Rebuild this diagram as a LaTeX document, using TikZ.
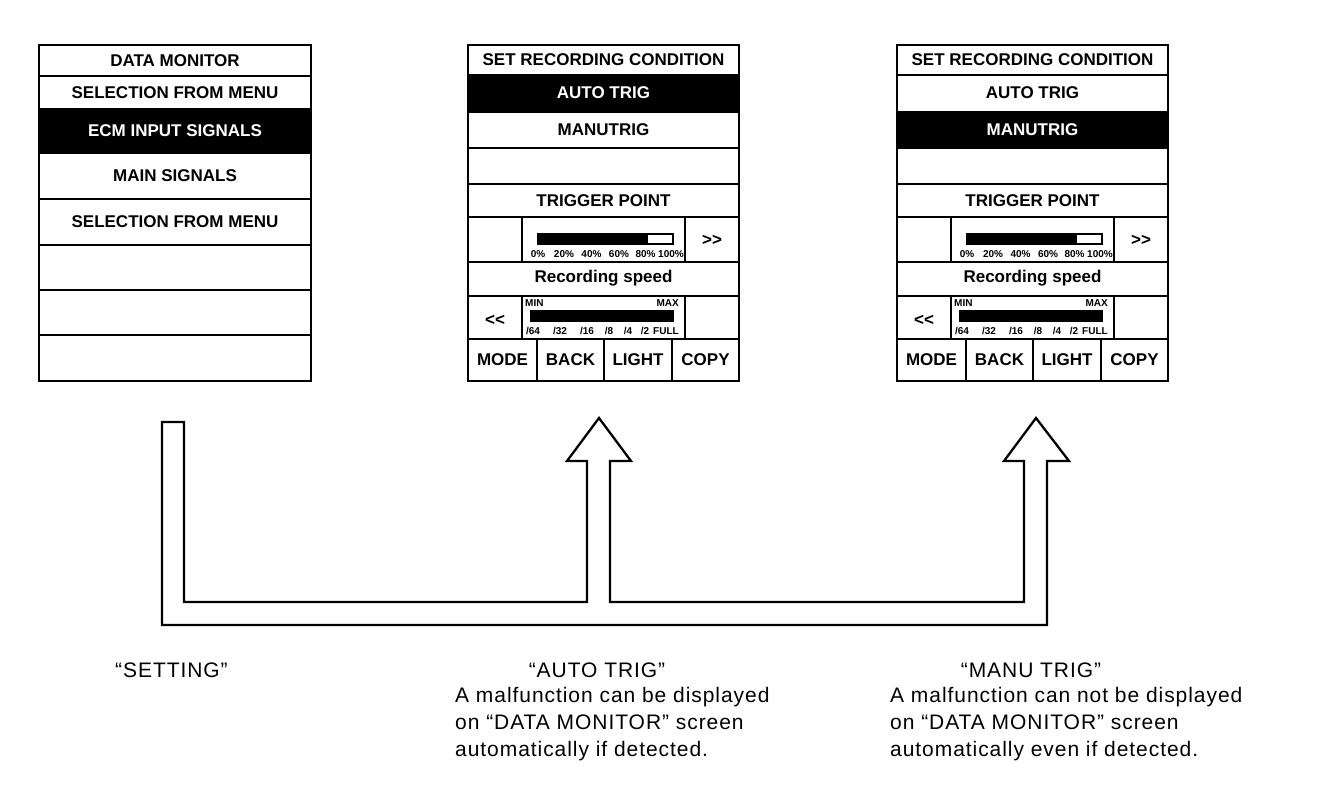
\documentclass[tikz,border=0pt]{standalone}
\usepackage{fontspec}
\setmainfont{Liberation Sans}
\newfontfamily\capfont{Liberation Sans}[LetterSpace=4.5]
\begin{document}
\begin{tikzpicture}[x=1pt,y=-1pt,
  frame/.style={draw=black,line width=2.6pt},
  rowline/.style={draw=black,line width=2pt},
  lbl/.style={font=\fontsize{17}{17}\selectfont\bfseries,inner sep=0pt},
  wlbl/.style={lbl,text=white},
  tiny/.style={font=\fontsize{10}{10}\selectfont\bfseries,inner sep=0pt},
  captxt/.style={font=\fontsize{21}{21}\capfont,inner sep=0pt,anchor=base west},
  arrowline/.style={draw=black,line width=2.3pt,line join=miter}]
\useasboundingbox (0,0) rectangle (1344,804);

% ---------- left screen ----------
\fill[black] (39,109) rectangle (311,153);
\foreach \yy in {76,109,153,199,245,290,335}{\draw[rowline] (39,\yy) -- (311,\yy);}
\draw[frame] (39,45) rectangle (311,381);
\node[lbl]  (l1) at (175,61)  {DATA MONITOR};
\node[lbl]  (l2) at (175,93)  {SELECTION FROM MENU};
\node[wlbl] (l3) at (175,131) {ECM INPUT SIGNALS};
\node[lbl]  (l4) at (175,176) {MAIN SIGNALS};
\node[lbl]  (l5) at (175,222) {SELECTION FROM MENU};

% ---------- recording condition screens ----------
\newcommand\recscreen[2]{%
  \ifnum#2=1 \fill[black] (468,75) rectangle (739,112);\else\fill[black] (468,112) rectangle (739,148);\fi
  \foreach \yy in {75,112,148,184,217,262,296,339}{\draw[rowline] (468,\yy) -- (739,\yy);}
  \draw[rowline] (522,217) -- (522,262);
  \draw[rowline] (685,217) -- (685,262);
  \draw[rowline] (522,296) -- (522,339);
  \draw[rowline] (685,296) -- (685,339);
  \draw[rowline] (537,339) -- (537,381);
  \draw[rowline] (604,339) -- (604,381);
  \draw[rowline] (672,339) -- (672,381);
  \draw[frame] (468,45) rectangle (739,381);
  \node[lbl] (#1title) at (603.5,60) {SET RECORDING CONDITION};
  \ifnum#2=1
    \node[wlbl] (#1auto) at (603.5,93) {AUTO TRIG};
    \node[lbl] (#1manu) at (603.5,130) {MANUTRIG};
  \else
    \node[lbl] (#1auto) at (603.5,93) {AUTO TRIG};
    \node[wlbl] (#1manu) at (603.5,130) {MANUTRIG};
  \fi
  \node[lbl] (#1trig) at (603.5,201) {TRIGGER POINT};
  \fill[black] (537,233) rectangle (674,245);
  \fill[white] (648,235) rectangle (672,243);
  \node[tiny] (#1p0) at (538,254) {0\%};
  \node[tiny] (#1p20) at (564,254) {20\%};
  \node[tiny] (#1p40) at (591.5,254) {40\%};
  \node[tiny] (#1p60) at (619,254) {60\%};
  \node[tiny] (#1p80) at (645.5,254) {80\%};
  \node[tiny] (#1p100) at (671,254) {100\%};
  \node[lbl] (#1fwd) at (712,240) {{>}{>}};
  \node[lbl] (#1speed) at (603.5,278) {Recording speed};
  \node[tiny,anchor=west] (#1min) at (525,303) {MIN};
  \node[tiny,anchor=east] (#1max) at (679,303) {MAX};
  \fill[black] (530,310) rectangle (674,322);
  \node[tiny] (#1r64) at (533,331) {/64};
  \node[tiny] (#1r32) at (560,331) {/32};
  \node[tiny] (#1r16) at (587,331) {/16};
  \node[tiny] (#1r8) at (609,331) {/8};
  \node[tiny] (#1r4) at (628,331) {/4};
  \node[tiny] (#1r2) at (645,331) {/2};
  \node[tiny] (#1rf) at (666,331) {FULL};
  \node[lbl] (#1rev) at (495,320) {{<}{<}};
  \node[lbl] (#1mode) at (502.5,360) {MODE};
  \node[lbl] (#1back) at (570.5,360) {BACK};
  \node[lbl] (#1light) at (638,360) {LIGHT};
  \node[lbl] (#1copy) at (705.5,360) {COPY};
}
\recscreen{m}{1}
\begin{scope}[xshift=429pt]
\recscreen{r}{2}
\end{scope}

% ---------- hollow arrow ----------
\coordinate (tipA) at (599,418);
\coordinate (tipB) at (1036,418);
\draw[arrowline] (162,422) -- (184,422) -- (184,602) -- (587,602) -- (587,461) -- (567,461)
  -- (tipA) -- (631,461) -- (610,461) -- (610,602) -- (1024,602) -- (1024,461) -- (1004,461)
  -- (tipB) -- (1069,461) -- (1047,461) -- (1047,625) -- (162,625) -- cycle;

% ---------- captions ----------
\node[captxt] (c1) at (115,677) {“SETTING”};
\node[captxt,anchor=base] (c2) at (597,677) {“AUTO TRIG”};
\node[captxt] (c2a) at (455,702) {A malfunction can be displayed};
\node[captxt] (c2b) at (455,729) {on “DATA MONITOR” screen};
\node[captxt] (c2c) at (455,756) {automatically if detected.};
\node[captxt,anchor=base] (c3) at (1031,677) {“MANU TRIG”};
\node[captxt] (c3a) at (890,702) {A malfunction can not be displayed};
\node[captxt] (c3b) at (890,729) {on “DATA MONITOR” screen};
\node[captxt] (c3c) at (890,756) {automatically even if detected.};
\end{tikzpicture}
\end{document}
